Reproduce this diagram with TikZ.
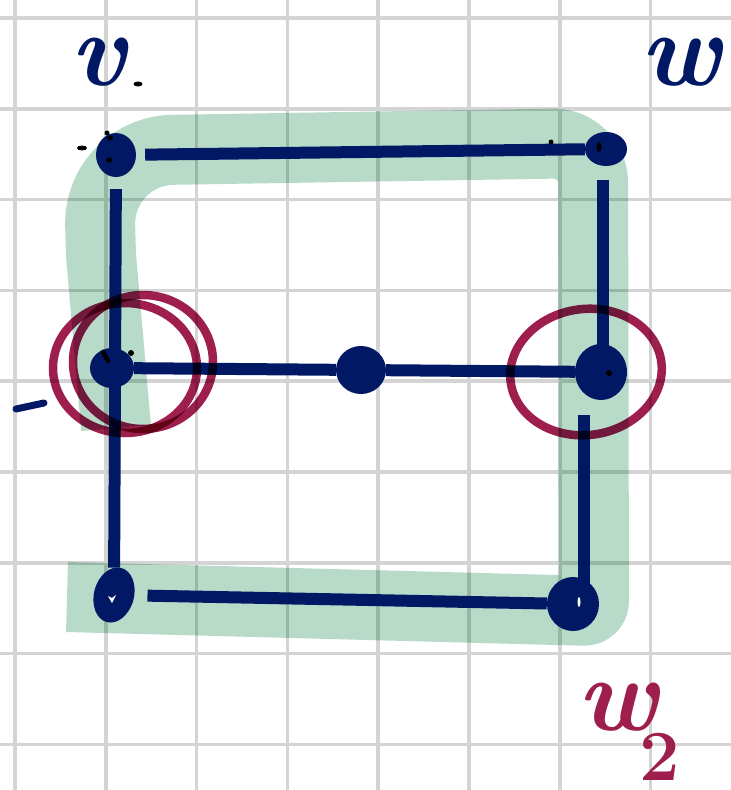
\documentclass[tikz,border=0pt]{standalone}
\usetikzlibrary{shapes.geometric}
\definecolor{navy}{RGB}{1,25,100}
\definecolor{ink}{RGB}{158,30,78}
\definecolor{hl}{RGB}{183,219,200}
\definecolor{gridc}{RGB}{212,212,212}
\begin{document}
\begin{tikzpicture}[x=1pt,y=-1pt,
  link/.style={draw=navy,line width=12pt},
  blob/.style={ellipse,fill=navy,inner sep=0pt},
  lbl/.style={inner sep=0pt,font=\fontsize{105}{105}\selectfont\bfseries\itshape},
  ring/.style={draw=ink,line width=8.5pt,blend mode=multiply},
  gridline/.style={draw=gridc,line width=3.5pt},
  speck/.style={fill=black}
]
\useasboundingbox (0,0) rectangle (731,790);
\fill[white] (0,0) rectangle (731,790);
% grid
\foreach \i in {0,...,7} \draw[gridline] ({15+90.8*\i},0) -- ({15+90.8*\i},790);
\foreach \i in {0,...,8} \draw[gridline] (0,{18+90.8*\i}) -- (731,{18+90.8*\i});
% green highlight
\draw[hl,line width=70pt,blend mode=multiply,line join=round]
  (116,428) -- (101,255) [rounded corners=75pt] -- (98,151) [rounded corners=40pt] -- (593,143) [rounded corners=10pt] -- (594,611) -- (67,597);
% vertices
\node[blob,minimum width=40pt,minimum height=44pt] (v) at (116,155) {};
\node[blob,minimum width=42pt,minimum height=34pt] (w) at (606,149) {};
\node[blob,minimum width=44pt,minimum height=40pt] (ml) at (112,368) {};
\node[blob,minimum width=50pt,minimum height=48pt] (mid) at (361,370) {};
\node[blob,minimum width=52pt,minimum height=56pt] (mr) at (601,372) {};
\node[blob,minimum width=40pt,minimum height=56pt,rotate=-15] (bl) at (114,595) {};
\node[blob,minimum width=52pt,minimum height=54pt] (br) at (573,604) {};
% edges
\draw[link,shorten <=9pt] (v) -- (w);
\draw[link,shorten <=12pt] (v) -- (bl);
\coordinate (rut) at (603,180);
\draw[link] (rut) -- (rut |- mr);
\coordinate (rlt) at (584,415);
\draw[link] (rlt) -- (rlt |- br);
\draw[link] (ml) -- (mid) -- (mr);
\draw[link,shorten <=13pt] (bl) -- (br);
% white specks inside bottom vertices
\fill[white] (108,596) -- (112,603) -- (116,595) -- (112,598) -- cycle;
\fill[white] (579,602) ellipse [x radius=1.5pt,y radius=5pt];
% red rings
\draw[ring] (125,368) ellipse [x radius=72pt,y radius=65pt];
\draw[ring] (143,362) ellipse [x radius=70pt,y radius=67pt];
\draw[ring,rotate around={8:(586,372)}] (586,372) ellipse [x radius=76pt,y radius=63pt];
% labels
\node[lbl,text=navy,anchor=base west] (lv) at (70,85) {v};
\node[lbl,text=navy,anchor=base west] (lw) at (640,85) {w};
\node[lbl,text=ink,anchor=base west] (lw2) at (577,730) {w\kern-18pt\raisebox{-50pt}{\fontsize{72}{72}\selectfont\upshape 2}};
% stray marks
\fill[speck] (138,84) ellipse [x radius=4.5pt,y radius=2.5pt];
\fill[speck] (82,148) ellipse [x radius=5pt,y radius=2.5pt];
\fill[speck] (107,133) circle [radius=2.5pt];
\fill[speck] (110,138) ellipse [x radius=3pt,y radius=2.5pt];
\fill[speck] (109,160) ellipse [x radius=3pt,y radius=2.5pt];
\fill[speck] (551,142) circle [radius=2.5pt];
\fill[speck] (599,147) ellipse [x radius=2.5pt,y radius=5pt];
\draw[black,line width=4.5pt,line cap=round] (103,352) -- (108,361);
\fill[speck] (131,353) circle [radius=3pt];
\fill[speck] (609,373) circle [radius=3pt];
\draw[navy,line width=7pt,line cap=round] (16,409) -- (44,403);
\end{tikzpicture}
\end{document}
